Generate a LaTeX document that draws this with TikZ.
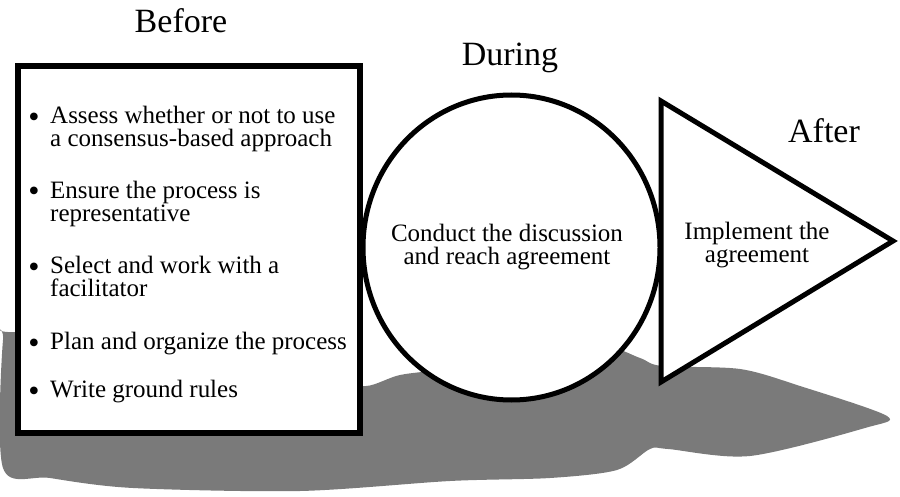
\documentclass[tikz,border=0pt]{standalone}
\usepackage{fontspec}
\setmainfont{Liberation Serif}
\usetikzlibrary{shapes.geometric,positioning}

\tikzset{
    stage/.style={draw=black, fill=white, line width=5pt},
    heading/.style={font=\fontsize{34}{36}\selectfont, inner sep=0pt, anchor=base},
    bodyline/.style={font=\fontsize{25}{23.5}\selectfont, inner sep=0pt, anchor=base west, align=left},
    midline/.style={font=\fontsize{25}{23.5}\selectfont, inner sep=0pt, anchor=base, align=center},
    dot/.style={font=\fontsize{32}{34}\selectfont, inner sep=0pt, anchor=base}
}

\begin{document}
\begin{tikzpicture}[x=1pt,y=-1pt]
    \useasboundingbox (0,0) rectangle (900,497);

    % shadow under the three stages
    \fill[black!52] plot[smooth cycle, tension=0.5] coordinates {
        (3,340) (15,332) (200,330) (330,378) (366,386) (400,375) (450,368)
        (520,350) (600,345) (640,358) (662,366) (740,369) (800,386)
        (887,416) (865,428) (750,456) (668,449) (650,449) (617,470)
        (550,478) (450,481) (300,491) (133,488) (50,478) (3,468)};

    % before (base anchor of a two line item = its last line)
    \node[stage, line width=6pt, rectangle, minimum width=342pt, minimum height=367pt] (before) at (189,249.5) {};
    \node[heading] (beforetitle) at (181,33) {Before};

    \node[dot] (d1) at (34,128) {\textbullet};
    \node[bodyline] (i1) at (50,147) {Assess whether or not to use\\a consensus-based approach};

    \node[dot] (d2) at (34,202) {\textbullet};
    \node[bodyline] (i2) at (50,222) {Ensure the process is\\representative};

    \node[dot] (d3) at (34,277) {\textbullet};
    \node[bodyline] (i3) at (50,297) {Select and work with a\\facilitator};

    \node[dot] (d4) at (34,353) {\textbullet};
    \node[bodyline] (i4) at (50,349) {Plan and organize the process};

    \node[dot] (d5) at (34,401) {\textbullet};
    \node[bodyline] (i5) at (50,397) {Write ground rules};

    % during
    \node[stage, ellipse, inner sep=0pt, minimum width=297pt, minimum height=305pt] (during) at (511.5,247.5) {};
    \node[heading] (duringtitle) at (510,66) {During};
    \node[midline] (conduct) at (507,265) {Conduct the discussion\\and reach agreement};

    % after
    \coordinate (ttop) at (661,101);
    \coordinate (tbot) at (661,382);
    \coordinate (ttip) at (893,241);
    \draw[stage, line join=miter] (ttop) -- (ttip) -- (tbot) -- cycle;
    \node[heading] (aftertitle) at (824,143) {After};
    \node[midline] (implement) at (757,263) {Implement the\\agreement};
\end{tikzpicture}
\end{document}
